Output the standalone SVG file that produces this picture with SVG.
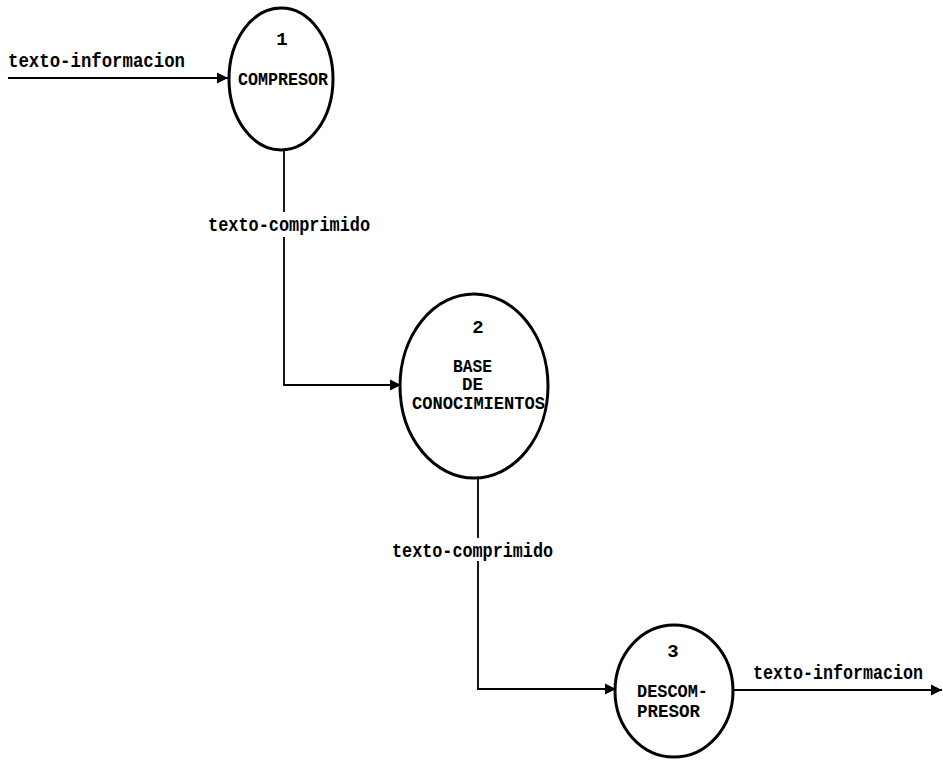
<svg xmlns="http://www.w3.org/2000/svg" width="943" height="762" viewBox="0 0 943 762">
<defs>
<marker id="arr" markerWidth="13" markerHeight="13" refX="11" refY="6.5" orient="auto" markerUnits="userSpaceOnUse">
<path d="M0,1 L11,6.5 L0,12 Z" fill="#000"/>
</marker>
<style>
.node ellipse{fill:#fff;stroke:#000;stroke-width:3}
.t{font-family:"Liberation Mono","DejaVu Sans Mono",monospace;font-weight:bold;font-size:20px;fill:#000}
.n{font-family:"Liberation Mono","DejaVu Sans Mono",monospace;font-weight:bold;font-size:18px;fill:#000}
.c{font-family:"Liberation Mono","DejaVu Sans Mono",monospace;font-weight:bold;font-size:19px;fill:#000;text-anchor:middle}
.conn path{fill:none;stroke:#000;stroke-width:1.8}
</style>
</defs>
<rect width="943" height="762" fill="#fff"/>
<g id="connectors" class="conn">
<path d="M8,78 L228,78" marker-end="url(#arr)"/>
<path d="M284,150 L284,385 L401,385" marker-end="url(#arr)"/>
<path d="M478,478 L478,689 L616,689" marker-end="url(#arr)"/>
<path d="M733,690 L942,690" marker-end="url(#arr)"/>
</g>
<g id="labels">
<text class="t" x="8" y="67" textLength="177" lengthAdjust="spacingAndGlyphs">texto-informacion</text>
<rect x="205" y="212" width="168" height="25" fill="#fff"/>
<text class="t" x="208" y="231" textLength="162" lengthAdjust="spacingAndGlyphs">texto-comprimido</text>
<rect x="389" y="538" width="168" height="23" fill="#fff"/>
<text class="t" x="392" y="557" textLength="161" lengthAdjust="spacingAndGlyphs">texto-comprimido</text>
<text class="t" x="753" y="679" textLength="170" lengthAdjust="spacingAndGlyphs">texto-informacion</text>
</g>
<g id="node1" class="node">
<ellipse cx="281" cy="79" rx="52" ry="71"/>
<text class="c" x="282" y="45">1</text>
<text class="n" x="238" y="85" textLength="90" lengthAdjust="spacingAndGlyphs">COMPRESOR</text>
</g>
<g id="node2" class="node">
<ellipse cx="474" cy="386" rx="74" ry="92"/>
<text class="c" x="478" y="333">2</text>
<text class="n" x="453" y="372" textLength="39" lengthAdjust="spacingAndGlyphs">BASE</text>
<text class="n" x="462" y="390" textLength="21" lengthAdjust="spacingAndGlyphs">DE</text>
<text class="n" x="412" y="409" textLength="133" lengthAdjust="spacingAndGlyphs">CONOCIMIENTOS</text>
</g>
<g id="node3" class="node">
<ellipse cx="674" cy="691" rx="59" ry="66"/>
<text class="c" x="673" y="657">3</text>
<text class="n" x="637" y="697" textLength="71" lengthAdjust="spacingAndGlyphs">DESCOM-</text>
<text class="n" x="637" y="717" textLength="63" lengthAdjust="spacingAndGlyphs">PRESOR</text>
</g>
</svg>
